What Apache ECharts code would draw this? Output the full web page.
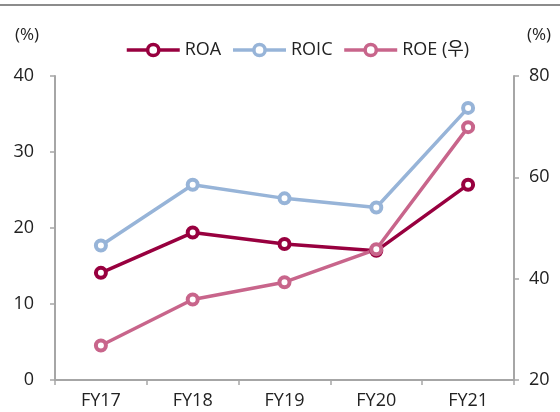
<!DOCTYPE html>
<html>
<head>
<meta charset="utf-8">
<script src="https://cdn.jsdelivr.net/npm/echarts@6/dist/echarts.min.js"></script>
<style>html,body{margin:0;padding:0;background:#fff}#c{width:560px;height:412px}</style>
</head>
<body>
<div id="c"></div>
<script>
const categories = ['FY17', 'FY18', 'FY19', 'FY20', 'FY21'];
const roa = [14.1, 19.4, 17.9, 17.0, 25.7];
const roic = [17.7, 25.7, 23.9, 22.7, 35.8];
const roe = [26.8, 35.9, 39.3, 45.8, 69.9];
const leftTicks = {min: 0, max: 40, interval: 10};
const rightTicks = {min: 20, max: 80, interval: 20};

const FONT = '"Open Sans", "Noto Sans CJK KR", sans-serif';
const axisGray = '#a6a6a6';
const chart = echarts.init(document.getElementById('c'), null, {renderer: 'canvas'});

function mkSeries(name, data, color, yIdx) {
  return {
    name: name, type: 'line', data: data, yAxisIndex: yIdx,
    symbol: 'circle', symbolSize: 10, showAllSymbol: true,
    lineStyle: {color: color, width: 3.5},
    itemStyle: {color: '#ffffff', borderColor: color, borderWidth: 4},
    emphasis: {disabled: true},
    z: 2
  };
}

chart.setOption({
  animation: false,
  textStyle: {fontFamily: FONT},
  grid: {left: 55, right: 46, top: 76, bottom: 32, containLabel: false},
  graphic: [
    {type: 'rect', left: 0, top: 4, shape: {width: 560, height: 2}, style: {fill: '#8c8c8c'}},
    {type: 'text', left: 15, top: 27, style: {text: '(%)', font: '17px ' + FONT, fill: '#222'}},
    {type: 'text', left: 527, top: 27, style: {text: '(%)', font: '17px ' + FONT, fill: '#222'}}
  ],
  legend: {
    left: 120, top: 36, itemWidth: 53, itemHeight: 14, itemGap: 10,
    itemStyle: {borderWidth: 3.5},
    lineStyle: {width: 3.5},
    textStyle: {fontSize: 18, color: '#222', fontFamily: FONT},
    data: ['ROA', 'ROIC', 'ROE (우)']
  },
  xAxis: {
    type: 'category', data: categories, boundaryGap: true,
    axisLine: {lineStyle: {color: axisGray, width: 2}},
    axisTick: {show: true, length: 5, lineStyle: {color: axisGray, width: 1.5}},
    axisLabel: {fontSize: 18, color: '#222', margin: 12, fontFamily: FONT},
    splitLine: {show: false}
  },
  yAxis: [
    {
      type: 'value', position: 'left', min: leftTicks.min, max: leftTicks.max, interval: leftTicks.interval,
      axisLine: {show: true, lineStyle: {color: axisGray, width: 2}},
      axisTick: {show: true, length: 5, lineStyle: {color: axisGray, width: 1.5}},
      axisLabel: {fontSize: 18, color: '#222', margin: 21, fontFamily: FONT},
      splitLine: {show: false}
    },
    {
      type: 'value', position: 'right', min: rightTicks.min, max: rightTicks.max, interval: rightTicks.interval,
      axisLine: {show: true, lineStyle: {color: axisGray, width: 2}},
      axisTick: {show: true, length: 5, lineStyle: {color: axisGray, width: 1.5}},
      axisLabel: {fontSize: 18, color: '#222', margin: 15, fontFamily: FONT},
      splitLine: {show: false}
    }
  ],
  series: [
    mkSeries('ROA', roa, '#98003f', 0),
    mkSeries('ROIC', roic, '#97b4d8', 0),
    mkSeries('ROE (우)', roe, '#c8658b', 1)
  ]
});
</script>
</body>
</html>
